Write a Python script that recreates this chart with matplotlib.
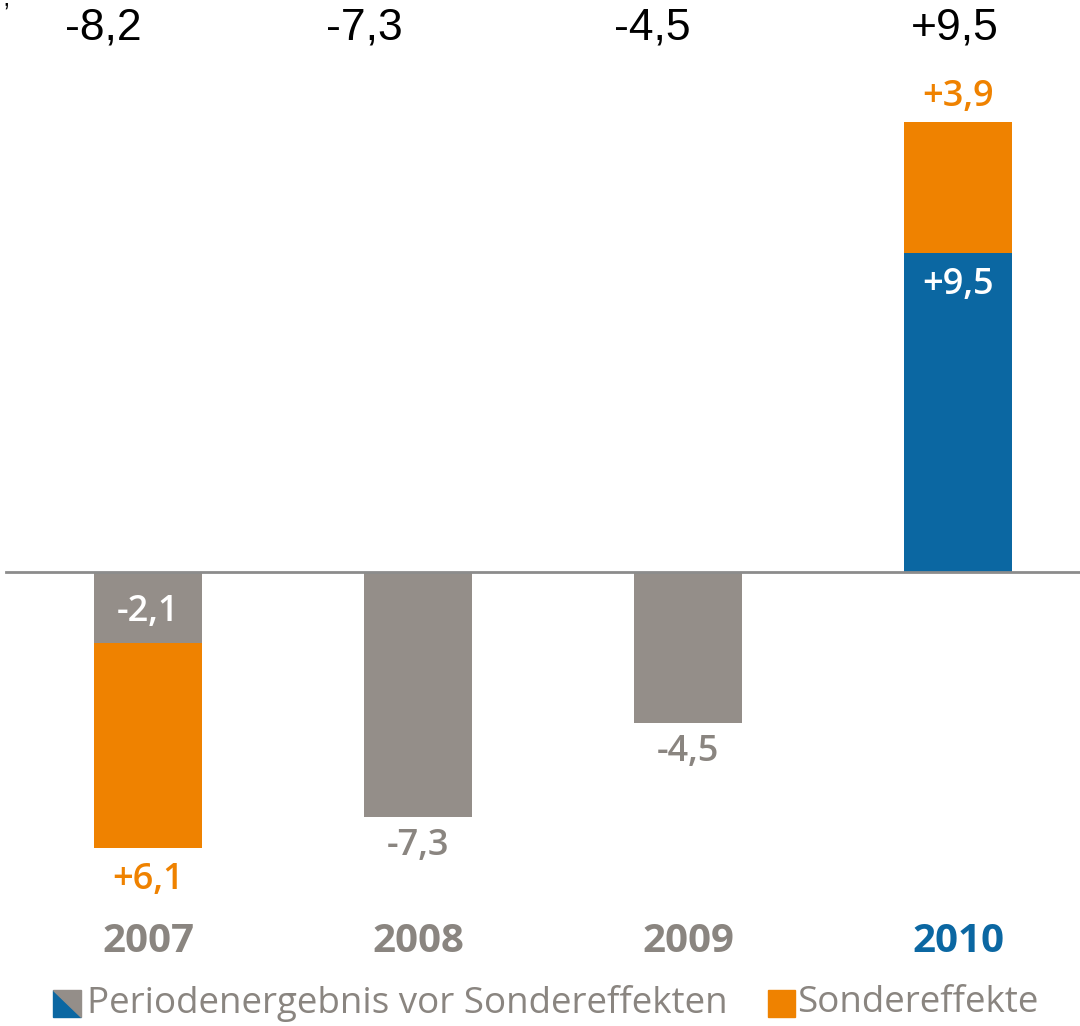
import numpy as np
import matplotlib.pyplot as plt
from matplotlib.patches import Polygon, Rectangle

# Daten aus der Grafik
jahre = ["2007", "2008", "2009", "2010"]
basis = [-2.1, -7.3, -4.5, 9.5]          # Periodenergebnis vor Sondereffekten
sonder = [-6.1, 0.0, 0.0, 3.9]           # Sondereffekte (gestapelt)
basis_txt = ["-2,1", "-7,3", "-4,5", "+9,5"]
sonder_txt = ["+6,1", "", "", "+3,9"]
gesamt_txt = ["-8,2", "-7,3", "-4,5", "+9,5"]

grau = "#948e89"
orange = "#ef8200"
blau = "#0b67a2"
textgrau = "#8a8580"

fig = plt.figure(figsize=(10.8, 10.26), dpi=100)
ax = fig.add_axes([0, 0, 1, 1])
ax.set_xlim(-0.548, 3.452)
ax.set_ylim(-13.51, 17.02)
ax.axis("off")

x = np.arange(len(jahre))
farben = [grau, grau, grau, blau]
ax.bar(x, basis, width=0.4, color=farben, zorder=2)
ax.bar(x, sonder, width=0.4, bottom=basis, color=orange, zorder=2)
ax.axhline(0, xmin=6 / 1080, xmax=1, color="#8c8c8c", lw=2, zorder=3)

font = "Open Sans"
# Werte an den Balken
for i in range(len(jahre)):
    b = basis[i]
    s = sonder[i]
    if s != 0:
        # Basis im Balken (weiss), Sondereffekt ausserhalb
        ax.text(x[i], b / 2 - 0.15 if b < 0 else b - 0.95, basis_txt[i],
                color="white", ha="center", va="center", fontsize=26,
                fontfamily=font, fontweight="semibold", zorder=4)
        ende = b + s
        off = -0.97 if ende < 0 else 0.74
        ax.text(x[i], ende + off, sonder_txt[i], color=orange, ha="center",
                va="center", fontsize=26, fontfamily=font, fontweight="semibold")
    else:
        ax.text(x[i], b - 0.85, basis_txt[i], color=textgrau, ha="center",
                va="center", fontsize=26, fontfamily=font, fontweight="semibold")

# Jahreszahlen
for i, j in enumerate(jahre):
    ax.text(x[i], -11.0, j, color=blau if j == "2010" else textgrau,
            ha="center", va="center", fontsize=29, fontfamily=font,
            fontweight="bold")

# Summen oben
dx = [-0.167, -0.2, -0.133, -0.01]
for i, t in enumerate(gesamt_txt):
    ax.text(x[i] + dx[i], 16.2, t, color="black", ha="center", va="center",
            fontsize=32, fontfamily="Liberation Sans")

# Legende (Pixelkoordinaten)
lg = fig.add_axes([0, 0, 1, 1], facecolor="none")
lg.set_xlim(0, 1080)
lg.set_ylim(1026, 0)
lg.axis("off")
lg.add_patch(Polygon([[53, 990], [53, 1017], [81, 1017]], closed=True, color=blau))
lg.add_patch(Polygon([[53, 990], [81, 990], [81, 1017]], closed=True, color=grau))
lg.text(87, 1003, "Periodenergebnis vor Sondereffekten", color=textgrau,
        ha="left", va="center", fontsize=26.5, fontfamily=font)
lg.add_patch(Rectangle((768, 990), 27, 27, color=orange))
lg.text(797, 1003, "Sondereffekte", color=textgrau, ha="left", va="center",
        fontsize=26.5, fontfamily=font)
lg.text(3, 14, "’", color="black", ha="left", va="center", fontsize=18,
        fontfamily="Liberation Sans")

fig.savefig("out.png", dpi=100)
